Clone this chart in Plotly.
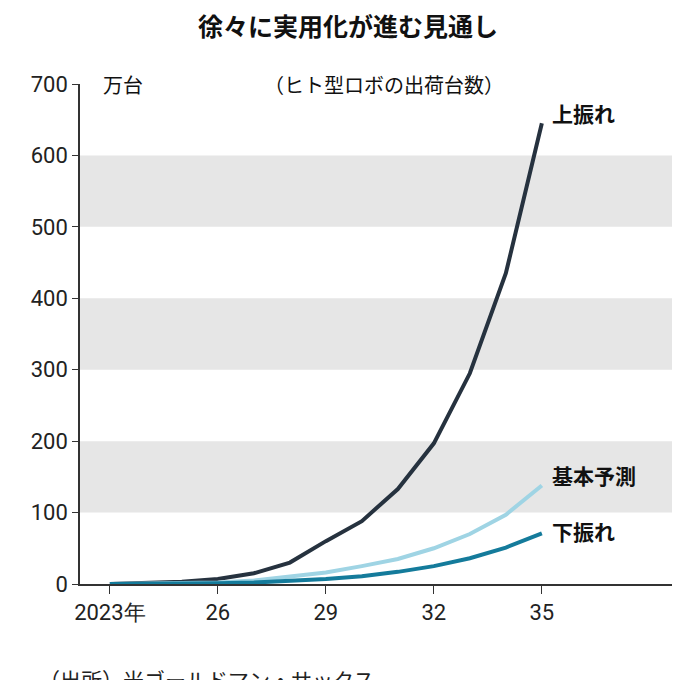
import plotly.graph_objects as go

years = list(range(2023, 2036))
upside = [0, 1, 3, 7, 15, 30, 60, 88, 133, 197, 295, 435, 645]
base = [0, 0.5, 1, 2, 5, 10, 16, 25, 35, 50, 70, 97, 138]
downside = [0, 0, 0.5, 1, 2, 4, 7, 11, 17, 25, 36, 51, 71]
xtick_vals = [2023, 2026, 2029, 2032, 2035]
xtick_text = ["2023年", "26", "29", "32", "35"]
ytick_vals = [0, 100, 200, 300, 400, 500, 600, 700]

jp = "Noto Sans CJK JP"
num = "Liberation Sans Narrow, Roboto, sans-serif"

fig = go.Figure()

# gray bands
for lo, hi in [(100, 200), (300, 400), (500, 600)]:
    fig.add_hrect(y0=lo, y1=hi, fillcolor="#e6e6e6", line_width=0, layer="below")

series = [
    ("上振れ", upside, "#26323f"),
    ("基本予測", base, "#9fd4e4"),
    ("下振れ", downside, "#147b9b"),
]
for name, ys, col in series:
    fig.add_trace(go.Scatter(x=years, y=ys, mode="lines", name=name,
                             line=dict(color=col, width=4)))

lab = dict(family=jp, size=21, color="#111")
fig.add_annotation(x=2035, y=upside[-1], text="<b>上振れ</b>", showarrow=False,
                   xanchor="left", xshift=8, yshift=10, font=lab)
fig.add_annotation(x=2035, y=base[-1], text="<b>基本予測</b>", showarrow=False,
                   xanchor="left", xshift=8, yshift=10, font=lab)
fig.add_annotation(x=2035, y=downside[-1], text="<b>下振れ</b>", showarrow=False,
                   xanchor="left", xshift=8, yshift=2, font=lab)

fig.add_annotation(xref="paper", yref="paper", x=0.035, y=1.0, text="万台", showarrow=False,
                   xanchor="left", yanchor="middle", font=dict(family=jp, size=20, color="#111"))
fig.add_annotation(xref="paper", yref="paper", x=0.5, y=1.0, text="（ヒト型ロボの出荷台数）", showarrow=False,
                   xanchor="center", yanchor="middle", font=dict(family=jp, size=20, color="#111"))
fig.add_annotation(xref="paper", yref="paper", x=-0.07, y=-0.155, text="（出所）米ゴールドマン・サックス",
                   showarrow=False, xanchor="left", yanchor="top", font=dict(family=jp, size=21, color="#222"))

fig.update_layout(
    width=680, height=680,
    margin=dict(l=72, r=0, t=76, b=104),
    paper_bgcolor="white", plot_bgcolor="white",
    showlegend=False,
    title=dict(text="<b>徐々に実用化が進む見通し</b>", x=0.5, xanchor="center", y=0.985, yanchor="top",
               font=dict(family=jp, size=25, color="#111")),
    xaxis=dict(range=[2022.17, 2039.06], tickvals=xtick_vals, ticktext=xtick_text,
               showgrid=False, zeroline=False, ticks="outside", ticklen=8, tickcolor="#333",
               showline=True, linecolor="#333", linewidth=1.5, automargin=False,
               tickfont=dict(family=num, size=22, color="#222")),
    yaxis=dict(range=[0, 700], tickvals=ytick_vals, showgrid=False, zeroline=False,
               ticks="outside", ticklen=6, tickcolor="#333",
               showline=True, linecolor="#333", linewidth=1.5, automargin=False,
               tickfont=dict(family=num, size=22, color="#222")),
)

fig.write_html("out.html")
